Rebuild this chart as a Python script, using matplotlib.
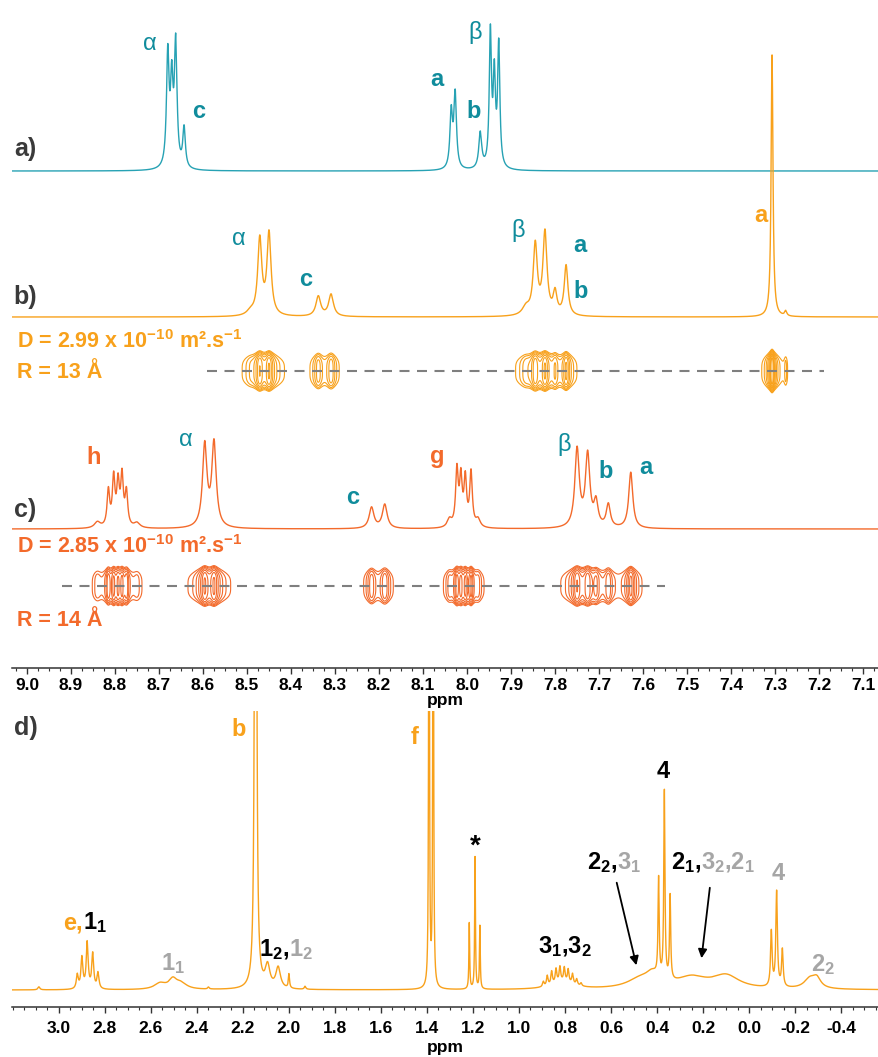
import numpy as np
import matplotlib
matplotlib.use("agg")
import matplotlib.pyplot as plt
from matplotlib.ticker import MultipleLocator
from matplotlib.offsetbox import TextArea, HPacker, AnnotationBbox

plt.rcParams['font.family'] = ['Liberation Sans', 'DejaVu Sans']
plt.rcParams['font.weight'] = 'bold'
plt.rcParams['mathtext.fontset'] = 'custom'
plt.rcParams['mathtext.rm'] = 'Liberation Sans:bold'
plt.rcParams['mathtext.it'] = 'Liberation Sans:bold'
plt.rcParams['mathtext.bf'] = 'Liberation Sans:bold'

TEAL = '#27a2b4'
TEAL_TXT = '#108c9c'
ORANGE = '#f8a11b'
RED = '#f36a2b'
DARK = '#3a3a3a'
GREY = '#a6a6a6'

# ---- peak lists: ppm, height, half width (ppm) ----
# a) free ligand
a_ppm = [8.680, 8.671, 8.662, 8.643, 8.036, 8.027, 7.970, 7.947, 7.938, 7.928]
a_h   = [112,   80,    122,   40,    56,    74,    36,    134,   88,    122]
a_w   = [0.0035, 0.0035, 0.0035, 0.0035, 0.0035, 0.0035, 0.004, 0.003, 0.003, 0.003]

# b) cage + DOSY
b_ppm = [8.492, 8.471, 8.450, 8.338, 8.309, 7.866, 7.845, 7.823, 7.800, 7.775, 7.307, 7.276]
b_h   = [4,     76,    82,    20,    22,    8,     70,    82,    22,    50,    262,   5]
b_w   = [0.01,  0.0055, 0.0055, 0.0065, 0.0065, 0.01, 0.0055, 0.0055, 0.005, 0.005, 0.0025, 0.003]

# c) cage + guest + DOSY
c_ppm = [8.840, 8.815, 8.803, 8.793, 8.784, 8.774, 8.750, 8.596, 8.575, 8.217, 8.187,
         8.040, 8.023, 8.014, 8.004, 7.991, 7.975, 7.750, 7.726, 7.707, 7.679, 7.628]
c_h   = [6,     36,    48,    42,    49,    34,    5,     82,    84,    21,    24,
         8,     56,    47,    47,    54,    8,     78,    72,    24,    23,    56]
c_w   = [0.008, 0.0035, 0.0035, 0.0035, 0.0035, 0.0035, 0.008, 0.006, 0.006, 0.0065, 0.0065,
         0.006, 0.0035, 0.0035, 0.0035, 0.0035, 0.006, 0.006, 0.006, 0.0055, 0.0055, 0.0055]

# d) aliphatic region
d_ppm = [3.087, 2.920, 2.900, 2.877, 2.853, 2.830, 2.56, 2.505, 2.47, 2.35,
         2.145, 2.093, 2.047, 2.000, 1.93, 1.391, 1.373, 1.216, 1.191, 1.170,
         0.81, 0.894, 0.877, 0.858, 0.839, 0.822, 0.803, 0.786, 0.767, 0.749, 0.730,
         0.47, 0.42, 0.393, 0.368, 0.343, 0.25, 0.10, -0.097, -0.120, -0.145, -0.265, -0.295]
d_h   = [3, 14, 31, 46, 35, 16, 6, 9, 6, 2,
         1500, 22, 21, 14, 3, 800, 800, 66, 132, 63,
         7, 5, 10, 13, 14, 15, 14, 13, 10, 6, 3,
         10, 10, 98, 188, 84, 11, 13, 55, 95, 37, 10, 9]
d_w   = [0.005, 0.005, 0.005, 0.005, 0.005, 0.005, 0.03, 0.02, 0.03, 0.004,
         0.003, 0.012, 0.012, 0.003, 0.004, 0.0016, 0.0016, 0.002, 0.002, 0.002,
         0.06, 0.004, 0.004, 0.004, 0.004, 0.004, 0.004, 0.004, 0.004, 0.004, 0.004,
         0.07, 0.03, 0.003, 0.003, 0.003, 0.08, 0.07, 0.004, 0.004, 0.004, 0.03, 0.02]

top_ticks = np.round(np.arange(7.1, 9.01, 0.1), 1)
bot_ticks = np.round(np.arange(-0.4, 3.01, 0.2), 1)


def spectrum(x, ppm, h, w):
    y = np.zeros_like(x)
    for p, hh, ww in zip(ppm, h, w):
        y += hh / (1 + ((x - p) / ww) ** 2)
    return y


def multi_label(ax, x, y, parts, size):
    boxes = [TextArea(t, textprops=dict(color=c, fontsize=size, fontweight='bold'))
             for t, c in parts]
    pack = HPacker(children=boxes, align='baseline', pad=0, sep=0)
    ab = AnnotationBbox(pack, (x, y), xycoords='data', frameon=False,
                        box_alignment=(0.5, 0.5), pad=0, annotation_clip=False)
    ax.add_artist(ab)


def style_axis(ax, ticks, minor, pad, labelpad):
    for s in ['left', 'right', 'top']:
        ax.spines[s].set_visible(False)
    ax.spines['bottom'].set_linewidth(1.1)
    ax.spines['bottom'].set_color('#333333')
    ax.set_yticks([])
    ax.set_xticks(ticks)
    ax.set_xticklabels(['%.1f' % (0.0 if abs(t) < 1e-9 else t) for t in ticks])
    ax.xaxis.set_minor_locator(MultipleLocator(minor))
    ax.tick_params(axis='x', which='major', direction='out', length=4, width=1,
                   labelsize=12.5, pad=pad, color='#333333')
    ax.tick_params(axis='x', which='minor', direction='out', length=2.5, width=0.8,
                   color='#333333')
    ax.set_xlabel('ppm', fontsize=12.5, fontweight='bold', labelpad=labelpad)


W, H = 879, 1057
fig = plt.figure(figsize=(W / 100, H / 100), dpi=100)

# ---------------- top panel (aromatic) ----------------
ax1 = fig.add_axes([12 / W, 1 - 668 / H, 867 / W, 668 / H])
ax1.set_xlim(9.034, 7.064)
ax1.set_ylim(0, 668)
style_axis(ax1, top_ticks, 0.025, 3, 0)

x = np.linspace(7.064, 9.034, 12000)
base_a, base_b, base_c = 497, 351, 139
ax1.plot(x, base_a + spectrum(x, a_ppm, a_h, a_w), color=TEAL, lw=1.0)
ax1.plot(x, base_b + spectrum(x, b_ppm, b_h, b_w), color=ORANGE, lw=1.0)
ax1.plot(x, base_c + spectrum(x, c_ppm, c_h, c_w), color=RED, lw=1.0)

# DOSY rows
levels = np.geomspace(3, 140, 8)
for sp, yc, col, xr in [((b_ppm, b_h, b_w), 297, ORANGE, (8.59, 7.19)),
                        ((c_ppm, c_h, c_w), 82, RED, (8.92, 7.55))]:
    xg = np.linspace(7.064, 9.034, 3000)
    yg = np.linspace(yc - 35, yc + 35, 141)
    XX, YY = np.meshgrid(xg, yg)
    Z = spectrum(xg, *sp)[None, :] * np.exp(-((YY - yc) / 15) ** 4)
    ax1.contour(XX, YY, Z, levels=levels, colors=col, linewidths=0.8)
    ax1.plot(xr, [yc, yc], color='#7f7f7f', lw=1.5, ls=(0, (4.8, 3.6)), zorder=5)

# panel labels
for txt, yy in [('a)', 519), ('b)', 371), ('c)', 158)]:
    ax1.text(9.03, yy, txt, color=DARK, fontsize=18, ha='left', va='center')

def lab(ax, xx, yy, t, col, size=17, weight='bold'):
    ax.text(xx, yy, t, color=col, fontsize=size, fontweight=weight,
            ha='center', va='center')

# a)
lab(ax1, 8.720, 624, 'α', TEAL_TXT, weight='normal')
lab(ax1, 8.609, 556, 'c', TEAL_TXT)
lab(ax1, 8.068, 588, 'a', TEAL_TXT)
lab(ax1, 7.984, 556, 'b', TEAL_TXT)
lab(ax1, 7.982, 636, 'β', TEAL_TXT, weight='normal')
# b)
lab(ax1, 8.518, 429, 'α', TEAL_TXT, weight='normal')
lab(ax1, 8.366, 389, 'c', TEAL_TXT)
lab(ax1, 7.884, 438, 'β', TEAL_TXT, weight='normal')
lab(ax1, 7.743, 423, 'a', TEAL_TXT)
lab(ax1, 7.741, 377, 'b', TEAL_TXT)
lab(ax1, 7.332, 453, 'a', ORANGE)
ax1.text(9.022, 326, r'D = 2.99 x 10$^{-10}$ m².s$^{-1}$', color=ORANGE,
         fontsize=15.5, ha='left', va='center')
ax1.text(9.022, 295, 'R = 13 Å', color=ORANGE, fontsize=15.5, ha='left', va='center')
# c)
lab(ax1, 8.848, 210, 'h', RED)
lab(ax1, 8.639, 228, 'α', TEAL_TXT, weight='normal')
lab(ax1, 8.261, 171, 'c', TEAL_TXT)
lab(ax1, 8.068, 212, 'g', RED)
lab(ax1, 7.779, 224, 'β', TEAL_TXT, weight='normal')
lab(ax1, 7.686, 196, 'b', TEAL_TXT)
lab(ax1, 7.593, 201, 'a', TEAL_TXT)
ax1.text(9.022, 121, r'D = 2.85 x 10$^{-10}$ m².s$^{-1}$', color=RED,
         fontsize=15.5, ha='left', va='center')
ax1.text(9.022, 47, 'R = 14 Å', color=RED, fontsize=15.5, ha='left', va='center')

# ---------------- bottom panel (aliphatic) ----------------
ax2 = fig.add_axes([12 / W, 1 - 1007 / H, 867 / W, 296 / H])
ax2.set_xlim(3.204, -0.565)
ax2.set_ylim(0, 296)
style_axis(ax2, bot_ticks, 0.05, 6, 3)

x2 = np.linspace(-0.565, 3.204, 30000)
ax2.plot(x2, 17 + spectrum(x2, d_ppm, d_h, d_w), color=ORANGE, lw=1.0)

ax2.text(3.195, 279, 'd)', color=DARK, fontsize=18, ha='left', va='center')
lab(ax2, 2.217, 277, 'b', ORANGE)
lab(ax2, 1.456, 270, 'f', ORANGE)
lab(ax2, 1.191, 160, '*', 'black', size=20)
lab(ax2, 0.374, 235, '4', 'black')
lab(ax2, -0.126, 134, '4', GREY)
multi_label(ax2, 2.887, 84, [('e,', ORANGE), ('1$_1$', 'black')], 17)
multi_label(ax2, 2.504, 43, [('1$_1$', GREY)], 17)
multi_label(ax2, 2.013, 57, [('1$_2$,', 'black'), ('1$_2$', GREY)], 17)
multi_label(ax2, 0.80, 60, [('3$_1$,3$_2$', 'black')], 17)
multi_label(ax2, 0.587, 144, [('2$_2$,', 'black'), ('3$_1$', GREY)], 17)
multi_label(ax2, 0.156, 144, [('2$_1$,', 'black'), ('3$_2$,2$_1$', GREY)], 17)
multi_label(ax2, -0.322, 42, [('2$_2$', GREY)], 17)

arrow = dict(arrowstyle='-|>', color='black', lw=1.3, mutation_scale=13)
ax2.annotate('', xy=(0.487, 39), xytext=(0.578, 127), arrowprops=arrow)
ax2.annotate('', xy=(0.208, 46), xytext=(0.169, 122), arrowprops=arrow)

fig.savefig('out.png', dpi=100)
